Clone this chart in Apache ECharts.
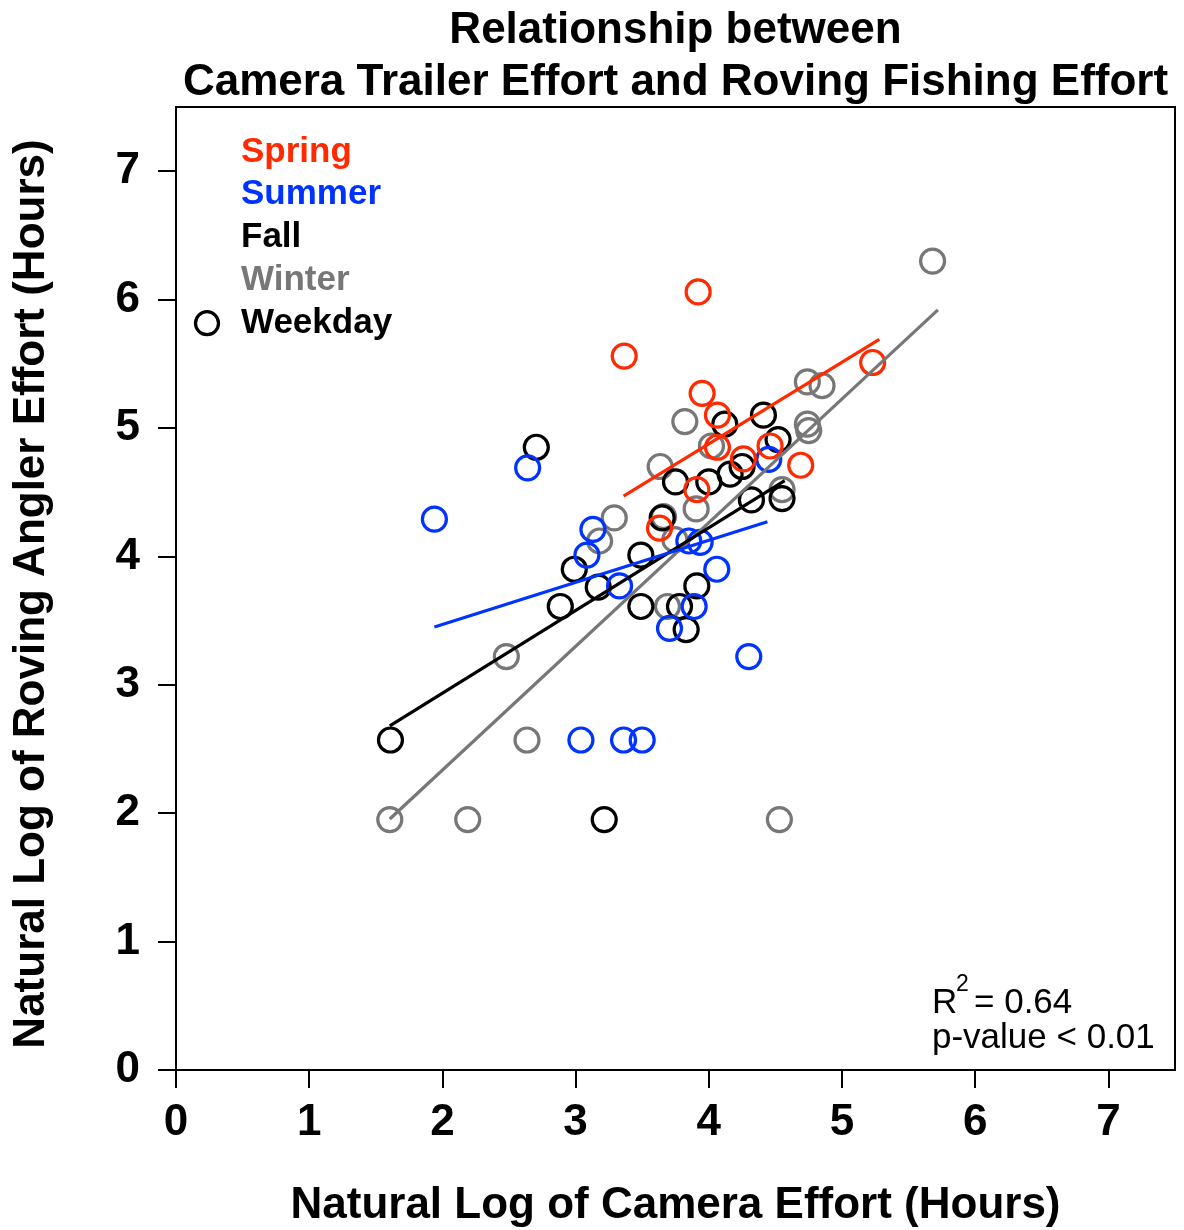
<!DOCTYPE html>
<html>
<head>
<meta charset="utf-8">
<title>Camera Trailer Effort vs Roving Fishing Effort</title>
<script src="https://cdn.jsdelivr.net/npm/echarts@6/dist/echarts.min.js"></script>
<style>
  html, body { margin: 0; padding: 0; background: #ffffff; }
  #chart { width: 1184px; height: 1230px; }
</style>
</head>
<body>
<div id="chart"></div>
<script>
// ln(camera effort hours), ln(roving angler effort hours) per season
var spring = [
  [3.92, 6.06], [3.365, 5.56], [3.95, 5.27], [4.065, 5.10], [4.065, 4.85],
  [4.26, 4.76], [4.46, 4.86], [4.69, 4.71], [3.91, 4.52], [3.63, 4.22], [5.23, 5.51]
];
var summer = [
  [1.94, 4.29], [2.64, 4.69], [3.13, 4.21], [3.085, 4.01], [3.33, 3.77],
  [3.04, 2.57], [3.36, 2.57], [3.50, 2.57], [3.85, 4.12], [3.935, 4.11],
  [4.06, 3.90], [3.89, 3.61], [3.705, 3.44], [4.30, 3.22], [4.45, 4.755]
];
var fall = [
  [2.705, 4.85], [2.99, 3.90], [3.17, 3.76], [2.885, 3.61], [3.49, 4.01],
  [3.49, 3.61], [1.61, 2.57], [3.215, 1.95], [3.65, 4.30], [3.91, 3.77],
  [3.78, 3.61], [3.83, 3.43], [4.12, 5.03], [4.41, 5.10], [4.52, 4.91],
  [4.25, 4.70], [4.16, 4.64], [4.00, 4.58], [3.75, 4.58], [4.32, 4.44], [4.55, 4.45]
];
var winter = [
  [5.68, 6.30], [4.74, 5.36], [4.85, 5.33], [4.74, 5.03], [4.75, 4.98],
  [4.55, 4.52], [3.82, 5.05], [3.635, 4.70], [3.905, 4.37], [3.29, 4.30],
  [3.66, 4.31], [3.18, 4.12], [2.48, 3.22], [2.635, 2.57], [1.605, 1.95],
  [2.19, 1.95], [3.69, 3.61], [3.745, 4.13], [4.53, 1.95], [4.02, 4.86]
];

// fitted lines per season: [start, end]
var springFit = [[3.36, 4.47], [5.28, 5.69]];
var summerFit = [[1.94, 3.45], [4.44, 4.27]];
var fallFit   = [[1.605, 2.68], [4.57, 4.59]];
var winterFit = [[1.605, 1.955], [5.72, 5.92]];

var tickValues = [0, 1, 2, 3, 4, 5, 6, 7];

var seasonNames = ['Spring', 'Summer', 'Fall', 'Winter'];
var seasonColors = ['#ff2a00', '#0033ff', '#000000', '#777777'];

var FONT = '"Liberation Sans", Arial, Helvetica, sans-serif';

var chart = echarts.init(document.getElementById('chart'), null, { renderer: 'canvas' });

function pointSeries(name, data, color) {
  return {
    name: name,
    type: 'scatter',
    data: data,
    symbol: 'circle',
    symbolSize: 24,
    z: 2,
    silent: true,
    itemStyle: { color: 'rgba(0,0,0,0)', borderColor: color, borderWidth: 3.2, opacity: 1 }
  };
}

function fitSeries(name, data, color) {
  return {
    name: name + ' fit',
    type: 'line',
    data: data,
    symbol: 'none',
    z: 3,
    silent: true,
    lineStyle: { color: color, width: 3.2, opacity: 1 }
  };
}

var axisCommon = {
  type: 'value',
  min: 0,
  max: 7.5,
  splitLine: { show: false },
  axisLine: { show: true, onZero: false, lineStyle: { color: '#000', width: 2 } },
  axisTick: { show: true, inside: false, length: 18, customValues: tickValues,
              lineStyle: { color: '#000', width: 2 } },
  axisLabel: { customValues: tickValues, color: '#000', fontFamily: FONT,
               fontWeight: 'bold', fontSize: 44 }
};

var xAxis = echarts.util.merge(echarts.util.clone(axisCommon), { axisLabel: { margin: 31 } });
var yAxis = echarts.util.merge(echarts.util.clone(axisCommon), { axisLabel: { margin: 36 } });

var legendGraphics = [];
var legendTop = 152, legendStep = 42.8;
seasonNames.forEach(function (n, i) {
  legendGraphics.push({
    type: 'text', x: 241, y: legendTop + i * legendStep,
    style: { text: n, fill: seasonColors[i], font: 'bold 35px ' + FONT,
             textAlign: 'left', textVerticalAlign: 'middle' }
  });
});
legendGraphics.push({
  type: 'text', x: 241, y: legendTop + 4 * legendStep,
  style: { text: 'Weekday', fill: '#000', font: 'bold 35px ' + FONT,
           textAlign: 'left', textVerticalAlign: 'middle' }
});
legendGraphics.push({
  type: 'circle', shape: { cx: 207, cy: legendTop + 4 * legendStep, r: 11.5 },
  style: { fill: 'none', stroke: '#000', lineWidth: 3.2 }
});

chart.setOption({
  animation: false,
  backgroundColor: '#ffffff',
  grid: { left: 176, top: 107, width: 999, height: 963, show: true,
          borderColor: '#000', borderWidth: 2, backgroundColor: 'transparent' },
  xAxis: xAxis,
  yAxis: yAxis,
  series: [
    pointSeries('Winter', winter, seasonColors[3]),
    pointSeries('Fall', fall, seasonColors[2]),
    pointSeries('Summer', summer, seasonColors[1]),
    pointSeries('Spring', spring, seasonColors[0]),
    fitSeries('Winter', winterFit, seasonColors[3]),
    fitSeries('Fall', fallFit, seasonColors[2]),
    fitSeries('Summer', summerFit, seasonColors[1]),
    fitSeries('Spring', springFit, seasonColors[0])
  ],
  graphic: [
    { type: 'text', x: 675.5, y: 31,
      style: { text: 'Relationship between', fill: '#000', font: 'bold 44px ' + FONT,
               textAlign: 'center', textVerticalAlign: 'middle' } },
    { type: 'text', x: 675.5, y: 83,
      style: { text: 'Camera Trailer Effort and Roving Fishing Effort', fill: '#000',
               font: 'bold 44px ' + FONT, textAlign: 'center', textVerticalAlign: 'middle' } },
    { type: 'text', x: 675.5, y: 1206,
      style: { text: 'Natural Log of Camera Effort (Hours)', fill: '#000',
               font: 'bold 44px ' + FONT, textAlign: 'center', textVerticalAlign: 'middle' } },
    { type: 'text', x: 32, y: 594, rotation: Math.PI / 2,
      style: { text: 'Natural Log of Roving Angler Effort (Hours)', fill: '#000',
               font: 'bold 44px ' + FONT, textAlign: 'center', textVerticalAlign: 'middle' } },
    { type: 'text', x: 932, y: 1003,
      style: { text: 'R', fill: '#000', font: '35px ' + FONT,
               textAlign: 'left', textVerticalAlign: 'middle' } },
    { type: 'text', x: 956, y: 985,
      style: { text: '2', fill: '#000', font: '23px ' + FONT,
               textAlign: 'left', textVerticalAlign: 'middle' } },
    { type: 'text', x: 974, y: 1003,
      style: { text: '= 0.64', fill: '#000', font: '35px ' + FONT,
               textAlign: 'left', textVerticalAlign: 'middle' } },
    { type: 'text', x: 932, y: 1038,
      style: { text: 'p-value < 0.01', fill: '#000', font: '35px ' + FONT,
               textAlign: 'left', textVerticalAlign: 'middle' } }
  ].concat(legendGraphics)
});
</script>
</body>
</html>
